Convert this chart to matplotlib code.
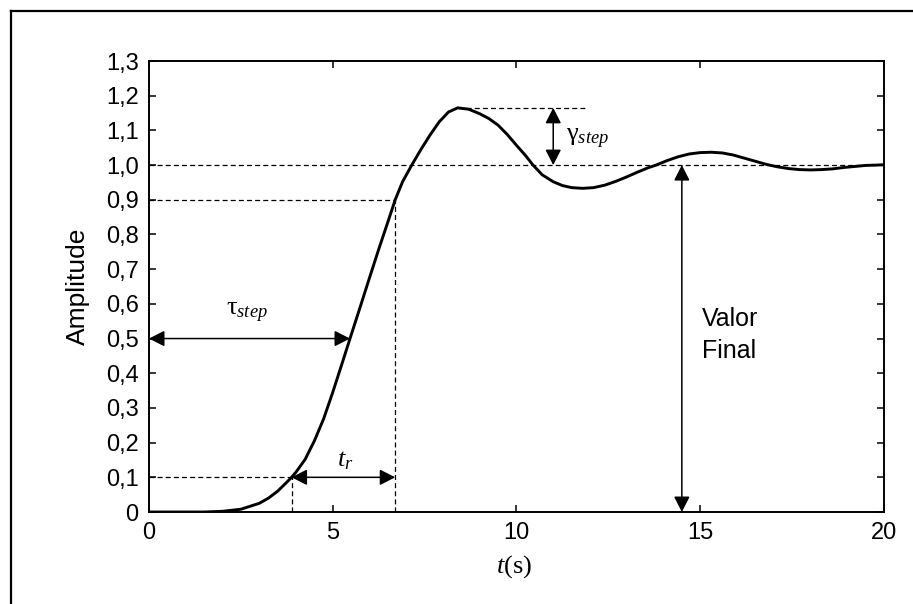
import matplotlib
matplotlib.use("Agg")
import matplotlib.pyplot as plt
from matplotlib.lines import Line2D

# Step response read at sample times (s)
t = [0, 1.0, 1.5, 2.0, 2.5, 3.0, 3.25, 3.5, 3.75, 3.88, 4.0, 4.25, 4.5,
     4.75, 5.0, 5.25, 5.47, 5.75, 6.0, 6.25, 6.5, 6.7, 6.9, 7.15, 7.4, 7.65,
     7.9, 8.15, 8.4, 8.7, 9.0, 9.25, 9.5, 9.75, 10.0, 10.25, 10.45, 10.7,
     11.0, 11.25, 11.5, 11.8, 12.1, 12.4, 12.7, 13.0, 13.3, 13.6, 13.8, 14.1,
     14.4, 14.7, 15.0, 15.3, 15.6, 15.9, 16.2, 16.5, 16.8, 17.1, 17.4, 17.7,
     18.0, 18.3, 18.6, 18.9, 19.2, 19.5, 19.8, 20.0]
amp = [0, 0, 0.0, 0.002, 0.008, 0.025, 0.04, 0.06, 0.086, 0.1, 0.115, 0.152,
       0.205, 0.268, 0.345, 0.427, 0.5, 0.592, 0.675, 0.757, 0.836, 0.9,
       0.952, 1.0, 1.045, 1.087, 1.125, 1.153, 1.165, 1.161, 1.148, 1.134,
       1.115, 1.088, 1.057, 1.027, 1.0, 0.972, 0.952, 0.941, 0.935, 0.933,
       0.935, 0.942, 0.953, 0.966, 0.98, 0.993, 1.0, 1.013, 1.024, 1.032,
       1.036, 1.037, 1.035, 1.029, 1.02, 1.011, 1.002, 0.995, 0.99, 0.987,
       0.986, 0.987, 0.989, 0.993, 0.996, 0.999, 1.0, 1.001]

# Characteristic points
t_10 = 3.88
t_50 = 5.47
t_90 = 6.7
t_peak = 8.4
y_peak = 1.165
y_final = 1.0

x_ticks = [0, 5, 10, 15, 20]
y_ticks = [0, 0.1, 0.2, 0.3, 0.4, 0.5, 0.6, 0.7, 0.8, 0.9, 1.0, 1.1, 1.2, 1.3]
y_ticklabels = ["0", "0,1", "0,2", "0,3", "0,4", "0,5", "0,6", "0,7", "0,8",
                "0,9", "1,0", "1,1", "1,2", "1,3"]

plt.rcParams["font.family"] = "Liberation Sans"
plt.rcParams["mathtext.fontset"] = "custom"
plt.rcParams["mathtext.rm"] = "Liberation Serif"
plt.rcParams["mathtext.it"] = "Liberation Serif:italic"

fig = plt.figure(figsize=(9.13, 6.04), dpi=100)
ax = fig.add_axes([0.1632, 0.1523, 0.805, 0.7467])

ax.plot(t, amp, color="black", lw=2.1, solid_joinstyle="round")

dash = dict(color="black", lw=0.9, dashes=(4, 2.5))
ax.plot([0, t_10], [0.1, 0.1], **dash)
ax.plot([t_10, t_10], [0, 0.1], **dash)
ax.plot([0, t_90], [0.9, 0.9], **dash)
ax.plot([t_90, t_90], [0, 0.9], **dash)
ax.plot([0, 20], [y_final, y_final], **dash)
ax.plot([t_peak, 11.95], [y_peak, y_peak], **dash)

arrow = dict(arrowstyle="<|-|>,head_length=0.47,head_width=0.24",
             color="black", lw=1.1, shrinkA=0, shrinkB=0, mutation_scale=20)
ax.annotate("", xy=(0, 0.5), xytext=(t_50, 0.5), arrowprops=arrow)
ax.annotate("", xy=(t_10, 0.1), xytext=(t_90, 0.1), arrowprops=arrow)
ax.annotate("", xy=(11.0, y_final), xytext=(11.0, y_peak), arrowprops=arrow)
ax.annotate("", xy=(14.5, 0), xytext=(14.5, y_final), arrowprops=arrow)

serif = "Liberation Serif"
ax.text(2.67, 0.575, "τ$_{step}$", fontsize=19, family=serif,
        ha="center", va="center")
ax.text(5.33, 0.15, "$t_r$", fontsize=19, ha="center", va="center")
ax.text(11.35, 1.075, "γ$_{step}$", fontsize=19, family=serif,
        ha="left", va="center")
ax.text(15.05, 0.51, "Valor\nFinal", fontsize=18, ha="left", va="center",
        linespacing=1.4)

ax.set_xlim(0, 20)
ax.set_ylim(0, 1.3)
ax.set_xticks(x_ticks)
ax.set_xticklabels([str(v) for v in x_ticks])
ax.set_yticks(y_ticks)
ax.set_yticklabels(y_ticklabels)
ax.tick_params(direction="in", length=5, width=1.1, labelsize=17, pad=7.5,
               top=True, right=True)
for s in ax.spines.values():
    s.set_linewidth(1.4)

ax.set_ylabel("Amplitude", fontsize=19)
ax.yaxis.set_label_coords(-0.0966, 0.5)
ax.yaxis.label.set_verticalalignment("center")
ax.set_xlabel("$t$(s)", fontsize=19, family=serif)
ax.xaxis.set_label_coords(0.497, -0.122)
ax.xaxis.label.set_verticalalignment("center")

# Outer frame (left and top edges)
fig.add_artist(Line2D([11 / 913, 11 / 913], [0, 1 - 11 / 604],
                      transform=fig.transFigure, color="black", lw=1.6))
fig.add_artist(Line2D([11 / 913, 1], [1 - 11 / 604, 1 - 11 / 604],
                      transform=fig.transFigure, color="black", lw=1.6))

fig.savefig("out.png", dpi=100)
